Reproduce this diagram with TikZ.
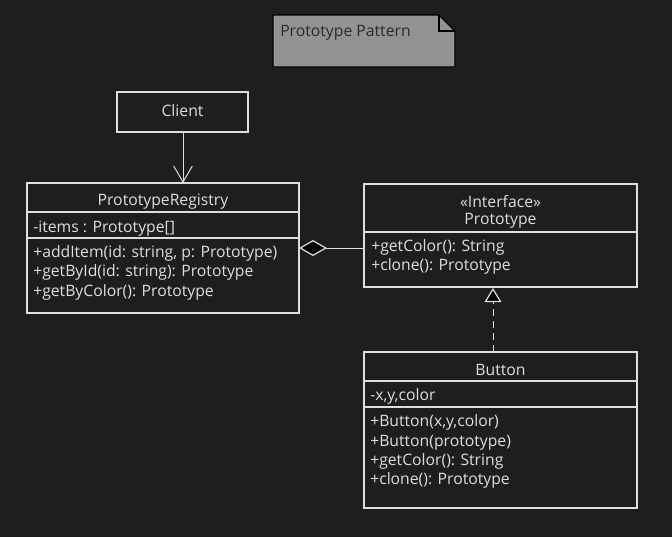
\documentclass[tikz,border=0pt]{standalone}
\usepackage{fontspec}
\setmainfont{Open Sans}
\usetikzlibrary{arrows.meta}
\definecolor{bg}{HTML}{1E1E1E}
\definecolor{fg}{HTML}{DEDEDE}
\definecolor{notefill}{HTML}{939393}
\definecolor{notetext}{HTML}{2A2A2A}
\tikzset{
  box/.style={draw=fg, line width=0.9pt, fill=bg},
  sep/.style={draw=fg, line width=0.9pt},
  lbl/.style={inner sep=0pt, text=fg, yshift=-1.2pt, font=\fontsize{11.8pt}{14pt}\selectfont},
  lbll/.style={lbl, anchor=west},
  conn/.style={draw=fg, line width=0.75pt},
}
\begin{document}
\begin{tikzpicture}[x=0.75pt, y=-0.75pt]
\useasboundingbox (0,0) rectangle (672,537);
\fill[bg] (0,0) rectangle (672,537);

% note
\filldraw[fill=notefill, draw=black, line width=1pt] (273,15) -- (439,15) -- (455,31) -- (455,67) -- (273,67) -- cycle;
\draw[black, line width=1pt] (439,15) -- (439,31) -- (455,31);
\node[inner sep=0pt, anchor=west, text=notetext, yshift=-1.2pt, font=\fontsize{11.8pt}{14pt}\selectfont] (notet) at (280,31) {Prototype Pattern};

% client
\draw[box] (117,92) rectangle (248,132);
\node[lbl] (clientt) at (182.5,109) {Client};
\coordinate (clientb) at (183,132);

% registry
\draw[box] (27,183) rectangle (299,313);
\draw[sep] (27,212) -- (299,212);
\draw[sep] (27,238) -- (299,238);
\node[lbl] (regt) at (163,200) {PrototypeRegistry};
\node[lbll] (rega) at (33,227) {-items : Prototype[]};
\node[lbll] (regm1) at (33,252) {+addItem(id: string, p: Prototype)};
\node[lbll] (regm2) at (33,271) {+getById(id: string): Prototype};
\node[lbll] (regm3) at (33,291) {+getByColor(): Prototype};
\coordinate (regtop) at (183,183);
\coordinate (regright) at (299,248);

% prototype interface
\draw[box] (364,184) rectangle (637,287);
\draw[sep] (364,232) -- (637,232);
\node[lbl] (protos) at (500.5,200) {«Interface»};
\node[lbl] (protot) at (500.5,219) {Prototype};
\node[lbll] (protom1) at (371,246) {+getColor(): String};
\node[lbll] (protom2) at (371,265) {+clone(): Prototype};
\coordinate (protoleft) at (364,248);
\coordinate (protobot) at (493,288);

% button
\draw[box] (364,352) rectangle (637,508);
\draw[sep] (364,381) -- (637,381);
\draw[sep] (364,407) -- (637,407);
\node[lbl] (butt) at (500.5,368) {Button};
\node[lbll] (buta) at (370,395) {-x,y,color};
\node[lbll] (butm1) at (370,421) {+Button(x,y,color)};
\node[lbll] (butm2) at (370,441) {+Button(prototype)};
\node[lbll] (butm3) at (370,460) {+getColor(): String};
\node[lbll] (butm4) at (370,479) {+clone(): Prototype};
\coordinate (buttop) at (493,352);

% connectors
\draw[conn, -{Straight Barb[length=12pt, width=14pt, line width=0.75pt]}] (clientb) -- (regtop);
\draw[conn, {Diamond[length=21pt, width=12pt, fill=black, line width=0.9pt]}-] (regright) -- (protoleft);
\draw[conn, dash pattern=on 5pt off 4pt, -{Triangle[length=10.5pt, width=12.5pt, fill=black, line width=0.9pt]}] (buttop) -- (protobot);
\end{tikzpicture}
\end{document}
